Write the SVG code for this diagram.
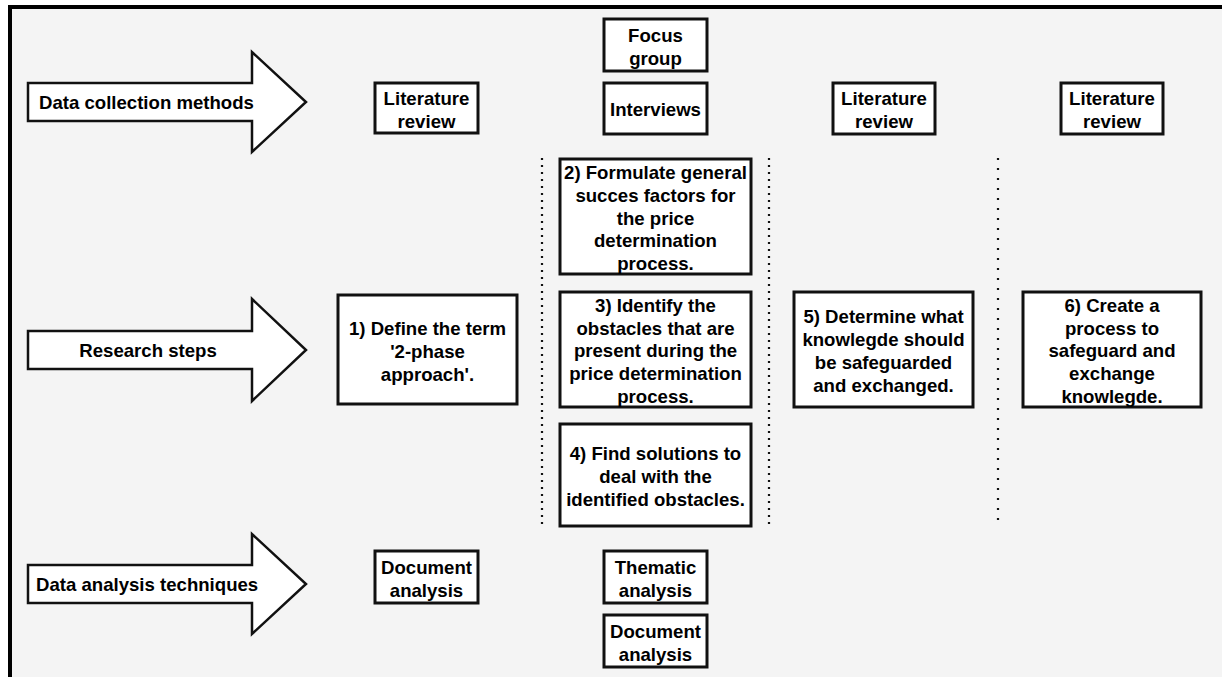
<svg xmlns="http://www.w3.org/2000/svg" width="1222" height="677" viewBox="0 0 1222 677">
<style>
.t{font-family:"Liberation Sans",Arial,sans-serif;font-weight:bold;font-size:18.6px;fill:#000;text-anchor:middle}
.tl{font-family:"Liberation Sans",Arial,sans-serif;font-weight:bold;font-size:18.6px;fill:#000;text-anchor:start}
.box{fill:#fff;stroke:#111;stroke-width:3}
.arr{fill:#fff;stroke:#111;stroke-width:2.5;stroke-linejoin:miter}
.dot{stroke:#111;stroke-width:2.2;fill:none}
</style>
<rect x="0" y="0" width="1222" height="677" fill="#fff"/>
<rect x="10" y="7" width="1212" height="670" fill="#f4f4f4"/>
<line x1="8" y1="7" x2="1222" y2="7" stroke="#000" stroke-width="4"/>
<line x1="10" y1="5" x2="10" y2="677" stroke="#000" stroke-width="4"/>

<g id="connectors">
<line class="dot" x1="542" y1="158" x2="542" y2="527" stroke-dasharray="2 5"/>
<line class="dot" x1="769" y1="158" x2="769" y2="527" stroke-dasharray="2 5"/>
<line class="dot" x1="998" y1="158" x2="998" y2="527" stroke-dasharray="2 8"/>
</g>

<g id="arrow-collection">
<path class="arr" d="M28,83 L252,83 L252,52 L306,102 L252,152 L252,121 L28,121 Z"/>
<text class="tl" x="39" y="109">Data collection methods</text>
</g>
<g id="arrow-research">
<path class="arr" d="M28,331 L252,331 L252,299 L306,350 L252,401 L252,369 L28,369 Z"/>
<text class="t" x="148" y="357">Research steps</text>
</g>
<g id="arrow-analysis">
<path class="arr" d="M28,565 L252,565 L252,534 L306,584 L252,634 L252,603 L28,603 Z"/>
<text class="tl" x="36" y="591">Data analysis techniques</text>
</g>

<g id="lit1">
<rect class="box" x="375" y="83" width="103" height="50"/>
<text class="t" x="426.5" y="105">Literature</text>
<text class="t" x="426.5" y="128">review</text>
</g>
<g id="focus">
<rect class="box" x="604" y="19" width="103" height="52"/>
<text class="t" x="655.5" y="42">Focus</text>
<text class="t" x="655.5" y="65">group</text>
</g>
<g id="interviews">
<rect class="box" x="604" y="83" width="103" height="51"/>
<text class="t" x="655.5" y="116">Interviews</text>
</g>
<g id="lit2">
<rect class="box" x="833" y="83" width="102" height="51"/>
<text class="t" x="884" y="105">Literature</text>
<text class="t" x="884" y="128">review</text>
</g>
<g id="lit3">
<rect class="box" x="1061" y="83" width="102" height="51"/>
<text class="t" x="1112" y="105">Literature</text>
<text class="t" x="1112" y="128">review</text>
</g>

<g id="step1">
<rect class="box" x="338" y="295" width="179" height="109"/>
<text class="t" x="427.5" y="335">1) Define the term</text>
<text class="t" x="427.5" y="358">'2-phase</text>
<text class="t" x="427.5" y="381">approach'.</text>
</g>
<g id="step2">
<rect class="box" x="560" y="159" width="191" height="115"/>
<text class="t" x="655.5" y="179">2) Formulate general</text>
<text class="t" x="655.5" y="202">succes factors for</text>
<text class="t" x="655.5" y="225">the price</text>
<text class="t" x="655.5" y="247">determination</text>
<text class="t" x="655.5" y="270">process.</text>
</g>
<g id="step3">
<rect class="box" x="560" y="292" width="191" height="115"/>
<text class="t" x="655.5" y="312">3) Identify the</text>
<text class="t" x="655.5" y="335">obstacles that are</text>
<text class="t" x="655.5" y="357">present during the</text>
<text class="t" x="655.5" y="380">price determination</text>
<text class="t" x="655.5" y="403">process.</text>
</g>
<g id="step4">
<rect class="box" x="560" y="424" width="191" height="102"/>
<text class="t" x="655.5" y="460">4) Find solutions to</text>
<text class="t" x="655.5" y="483">deal with the</text>
<text class="t" x="655.5" y="506">identified obstacles.</text>
</g>
<g id="step5">
<rect class="box" x="794" y="292" width="179" height="115"/>
<text class="t" x="883.5" y="323">5) Determine what</text>
<text class="t" x="883.5" y="346">knowlegde should</text>
<text class="t" x="883.5" y="369">be safeguarded</text>
<text class="t" x="883.5" y="392">and exchanged.</text>
</g>
<g id="step6">
<rect class="box" x="1023" y="292" width="178" height="115"/>
<text class="t" x="1112" y="312">6) Create a</text>
<text class="t" x="1112" y="335">process to</text>
<text class="t" x="1112" y="357">safeguard and</text>
<text class="t" x="1112" y="380">exchange</text>
<text class="t" x="1112" y="403">knowlegde.</text>
</g>

<g id="doc1">
<rect class="box" x="375" y="551" width="103" height="52"/>
<text class="t" x="426.5" y="574">Document</text>
<text class="t" x="426.5" y="597">analysis</text>
</g>
<g id="thematic">
<rect class="box" x="604" y="551" width="103" height="52"/>
<text class="t" x="655.5" y="574">Thematic</text>
<text class="t" x="655.5" y="597">analysis</text>
</g>
<g id="doc2">
<rect class="box" x="604" y="615" width="103" height="52"/>
<text class="t" x="655.5" y="638">Document</text>
<text class="t" x="655.5" y="661">analysis</text>
</g>
</svg>
